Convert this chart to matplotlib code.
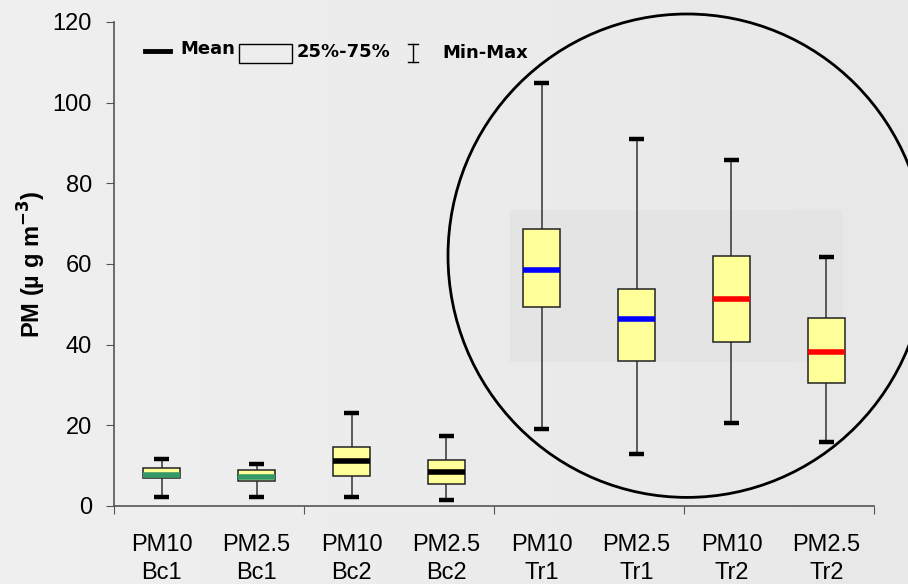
import numpy as np
import matplotlib
matplotlib.use("Agg")
import matplotlib.pyplot as plt
from matplotlib.patches import Ellipse, Rectangle
from matplotlib.lines import Line2D

plt.rcParams['font.family'] = ['Liberation Sans', 'DejaVu Sans']

labels = ["PM10\nBc1", "PM2.5\nBc1", "PM10\nBc2", "PM2.5\nBc2",
          "PM10\nTr1", "PM2.5\nTr1", "PM10\nTr2", "PM2.5\nTr2"]
mins = [2.2, 2.2, 2.2, 1.4, 19.0, 12.8, 20.6, 15.9]
q1 = [7.0, 6.3, 7.4, 5.5, 49.3, 36.0, 40.7, 30.4]
means = [7.7, 7.2, 11.2, 8.4, 58.6, 46.4, 51.2, 38.2]
q3 = [9.4, 9.0, 14.6, 11.3, 68.6, 53.7, 61.9, 46.7]
maxs = [11.6, 10.5, 23.0, 17.4, 104.8, 91.0, 85.8, 61.7]
mean_colors = ["#339966", "#339966", "black", "black",
               "#0000ff", "#0000ff", "#ff0000", "#ff0000"]

W, H = 908, 584
fig = plt.figure(figsize=(W / 100, H / 100), dpi=100)
fig.patch.set_facecolor("#e9e9e9")

# slightly lighter band on the left like the original background
grad = np.linspace(0.94, 0.91, 256).reshape(1, -1)
bg = fig.add_axes([0, 0, 1, 1], zorder=-3)
bg.imshow(np.repeat(grad[..., None], 3, axis=2), aspect="auto", extent=[0, 1, 0, 1])
bg.axis("off")

ax = fig.add_axes([114 / W, 1 - 506 / H, 760 / W, 484 / H])
ax.patch.set_alpha(0)

x = np.arange(len(labels))
bw = 0.39
cw = 0.15

ax.vlines(x, mins, maxs, color="#333333", lw=1.1, zorder=2)
ax.hlines(mins, x - cw / 2, x + cw / 2, color="black", lw=3.2, zorder=3)
ax.hlines(maxs, x - cw / 2, x + cw / 2, color="black", lw=3.2, zorder=3)
ax.bar(x, np.array(q3) - np.array(q1), bottom=q1, width=bw,
       color="#ffff99", edgecolor="#222222", lw=1.1, zorder=4)
for xi, m, c in zip(x, means, mean_colors):
    ax.hlines(m, xi - bw / 2, xi + bw / 2, color=c, lw=4, zorder=5)

ax.set_xlim(-0.5, 7.5)
ax.set_ylim(0, 120)
ax.set_yticks(np.arange(0, 121, 20))
ax.set_xticks(np.arange(-0.5, 7.6, 2))
ax.set_xticklabels([])
ax.set_xticks(x, minor=True)
ax.set_xticklabels(labels, minor=True, fontsize=17, linespacing=1.35)
ax.tick_params(axis="x", which="minor", length=0, pad=20)
ax.tick_params(axis="x", which="major", direction="out", length=6, color="#555555")
ax.tick_params(axis="y", direction="out", length=6, color="#555555", labelsize=17, pad=10)
for s in ["top", "right"]:
    ax.spines[s].set_visible(False)
for s in ["left", "bottom"]:
    ax.spines[s].set_color("#555555")
    ax.spines[s].set_linewidth(1.2)

ax.set_ylabel(r"PM (µ g m$^{\mathbf{-3}}$)", fontsize=17, fontweight="bold", labelpad=3)

# shaded area and circle around the traffic sites
fig.add_artist(Rectangle((510 / W, 1 - 362 / H), 333 / W, 152 / H,
                         transform=fig.transFigure, facecolor="#e4e4e4",
                         edgecolor="none", zorder=-1))
fig.add_artist(Ellipse((687 / W, 1 - 255.7 / H), 2 * 239 / W, 2 * 241.7 / H,
                       transform=fig.transFigure, fill=False, lw=2, color="black"))

# legend
lp = dict(transform=fig.transFigure, fontsize=13, fontweight="bold",
          va="center", ha="left", family=["DejaVu Sans"])
fig.add_artist(Line2D([145 / W, 170 / W], [1 - 50.5 / H] * 2,
                      transform=fig.transFigure, color="black", lw=3.5))
fig.text(180 / W, 1 - 49 / H, "Mean", **lp)
fig.add_artist(Rectangle((239 / W, 1 - 63 / H), 53 / W, 19 / H,
                         transform=fig.transFigure, fill=False, lw=1, edgecolor="black"))
fig.text(297 / W, 1 - 52 / H, "25%-75%", **lp)
fig.add_artist(Line2D([413 / W] * 2, [1 - 44 / H, 1 - 62 / H],
                      transform=fig.transFigure, color="black", lw=1))
fig.add_artist(Line2D([408 / W, 418 / W], [1 - 44 / H] * 2,
                      transform=fig.transFigure, color="black", lw=1))
fig.add_artist(Line2D([408 / W, 418 / W], [1 - 62 / H] * 2,
                      transform=fig.transFigure, color="black", lw=1))
fig.text(442 / W, 1 - 53 / H, "Min-Max", **lp)

fig.savefig("out.png", dpi=100, facecolor=fig.get_facecolor())
